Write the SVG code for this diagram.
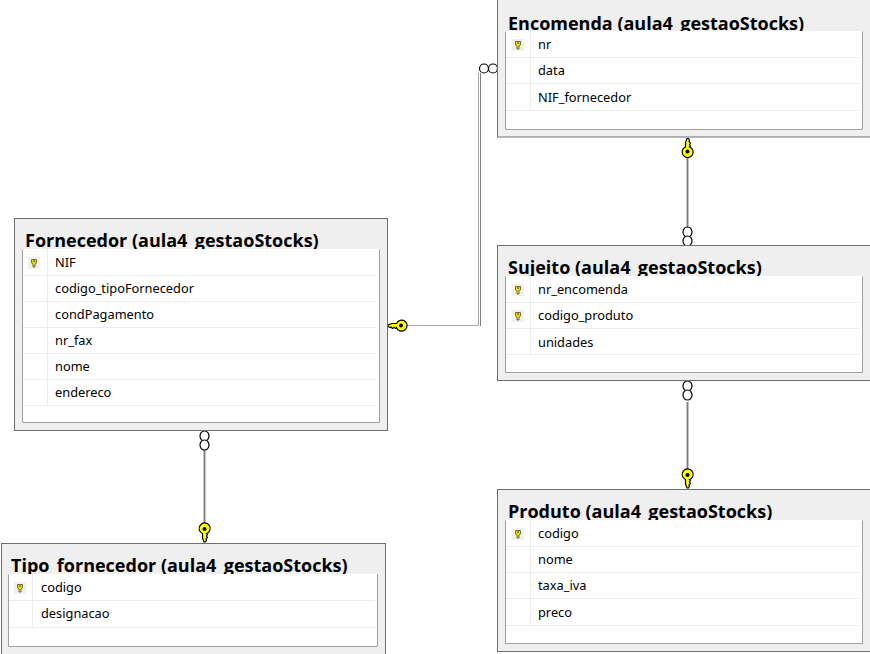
<svg xmlns="http://www.w3.org/2000/svg" width="870" height="654" viewBox="0 0 870 654">
<style>
.o{fill:#efefef;stroke:#6e6e6e;stroke-width:1}
.p{fill:#fff;stroke:#a0a0a0;stroke-width:1}
.t{font:700 18px "Open Sans","Noto Sans",sans-serif;fill:#000}
.r{font:12.800px "Noto Sans","Open Sans",sans-serif;fill:#000}
.l{stroke:#ececec;stroke-width:1;fill:none}
.c1{stroke:#c4c4c4;stroke-width:3;fill:none}
.c2{stroke:#808080;stroke-width:1;fill:none}
.c3{stroke:#a8a8a8;stroke-width:1;fill:none}
.ring{fill:#fff;stroke:#000;stroke-width:1.200}
.kb{fill:#ffff00;stroke:#000;stroke-width:1.200}
.kbg{fill:#f0f0f0}
.k{fill:#e8dc00;stroke:#555520;stroke-width:.8}
</style>
<defs>
<g id="mk"><rect class="kbg" x="-6" y="-6" width="12" height="12"/><path class="k" d="M-2.500-3.500h5v3.500l-1.500 1v3h-2v-3l-1.500-1z"/><circle cx="0" cy="-2" r=".8" fill="#333"/></g>
<g id="bk"><path class="kb" d="M-2-4.500 L-2-9 L-.5-13 L1-13 L2-11 L1.500-10 L3-8.500 L2-7 L3-5.500 L2-4.600 A5.500 5.500 0 1 1-2-4.500Z"/><circle cx="0" cy="0" r="2" fill="#000"/></g>
</defs>
<g id="connectors">
<path class="c1" d="M687.500 156V228"/><path class="c2" d="M687.500 156V228"/>
<path class="c1" d="M687.500 402V470"/><path class="c2" d="M687.500 402V470"/>
<path class="c1" d="M204.500 449V523"/><path class="c2" d="M204.500 449V523"/>
<path class="c3" d="M406 325.500H478.500V73"/><path class="c2" d="M480.500 326V73"/>
<ellipse class="ring" cx="484" cy="68.500" rx="4.500" ry="4.500"/><ellipse class="ring" cx="493" cy="68.500" rx="4.500" ry="4.500"/>
<ellipse class="ring" cx="687.500" cy="232" rx="4.500" ry="5"/><ellipse class="ring" cx="687.500" cy="241" rx="4.500" ry="5"/>
<ellipse class="ring" cx="687.500" cy="386" rx="4.500" ry="5"/><ellipse class="ring" cx="687.500" cy="395" rx="4.500" ry="5"/>
<ellipse class="ring" cx="204.500" cy="436" rx="4.500" ry="5"/><ellipse class="ring" cx="204.500" cy="445" rx="4.500" ry="5"/>
<use href="#bk" transform="translate(687.500 151.500)"/>
<use href="#bk" transform="translate(687.500 475) scale(1 -1)"/>
<use href="#bk" transform="translate(204.500 529) scale(1 -1)"/>
<use href="#bk" transform="translate(401 325.500) rotate(-90) scale(-1 1)"/>
</g>
<g id="encomenda">
<rect class="o" x="497.500" y="-1" width="380" height="138"/>
<text class="t" x="508" y="30">Encomenda (aula4_gestaoStocks)</text>
<path class="p" d="M505.500 31.500V129.500H862.500V31.500"/><rect x="506" y="31" width="356" height="98" fill="#fff"/>
<path class="l" d="M506 57.500H860M506 83.500H860M506 110.500H860M530.500 31V110"/>
<use href="#mk" x="518" y="45"/>
<text class="r" x="538" y="49">nr</text><text class="r" x="538" y="75">data</text><text class="r" x="538" y="102">NIF_fornecedor</text>
</g>
<g id="sujeito">
<rect class="o" x="497.500" y="245.500" width="380" height="135"/>
<text class="t" x="508" y="274">Sujeito (aula4_gestaoStocks)</text>
<path class="p" d="M505.500 276.500V372.500H862.500V276.500"/><rect x="506" y="276" width="356" height="96" fill="#fff"/>
<path class="l" d="M506 302.500H860M506 328.500H860M506 354.500H860M530.500 276V354"/>
<use href="#mk" x="518" y="290"/><use href="#mk" x="518" y="316"/>
<text class="r" x="538" y="294">nr_encomenda</text><text class="r" x="538" y="320">codigo_produto</text><text class="r" x="538" y="347">unidades</text>
</g>
<g id="produto">
<rect class="o" x="497.500" y="489.500" width="380" height="162"/>
<text class="t" x="508" y="518">Produto (aula4_gestaoStocks)</text>
<path class="p" d="M505.500 520.500V643.500H862.500V520.500"/><rect x="506" y="520" width="356" height="123" fill="#fff"/>
<path class="l" d="M506 546.500H860M506 572.500H860M506 598.500H860M506 625.500H860M530.500 520V625"/>
<use href="#mk" x="518" y="534"/>
<text class="r" x="538" y="538">codigo</text><text class="r" x="538" y="564">nome</text><text class="r" x="538" y="590">taxa_iva</text><text class="r" x="538" y="617">preco</text>
</g>
<g id="fornecedor">
<rect class="o" x="14.500" y="218.500" width="373" height="212"/>
<text class="t" x="25" y="247">Fornecedor (aula4_gestaoStocks)</text>
<path class="p" d="M22.500 249.500V422.500H379.500V249.500"/><rect x="23" y="249" width="356" height="173" fill="#fff"/>
<path class="l" d="M23 275.500H377M23 301.500H377M23 327.500H377M23 353.500H377M23 379.500H377M23 405.500H377M47.500 249V405"/>
<use href="#mk" x="34" y="263"/>
<text class="r" x="55" y="267">NIF</text><text class="r" x="55" y="293">codigo_tipoFornecedor</text><text class="r" x="55" y="319">condPagamento</text><text class="r" x="55" y="345">nr_fax</text><text class="r" x="55" y="371">nome</text><text class="r" x="55" y="397">endereco</text>
</g>
<g id="tipo_fornecedor">
<rect class="o" x="1.500" y="543.500" width="384" height="120"/>
<text class="t" x="11" y="572">Tipo_fornecedor (aula4_gestaoStocks)</text>
<path class="p" d="M8.500 574.500V646.500H377.500V574.500"/><rect x="9" y="574" width="368" height="72" fill="#fff"/>
<path class="l" d="M9 600.500H375M9 627.500H375M32.500 574V627"/>
<use href="#mk" x="20" y="588"/>
<text class="r" x="41" y="592">codigo</text><text class="r" x="41" y="618">designacao</text>
</g>
</svg>
